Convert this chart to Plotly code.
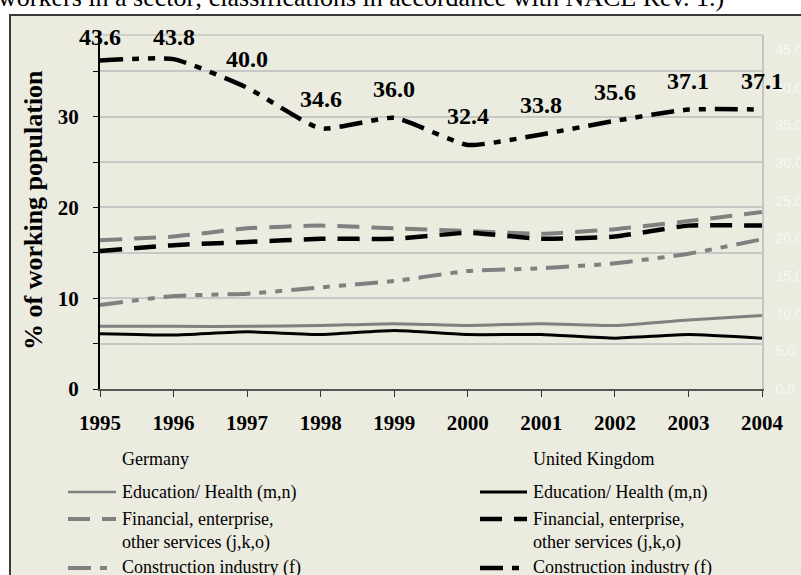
import plotly.graph_objects as go

# ---------------- data ----------------
years = [1995, 1996, 1997, 1998, 1999, 2000, 2001, 2002, 2003, 2004]
de_edu = [6.9, 6.9, 6.9, 7.0, 7.2, 7.0, 7.2, 7.0, 7.6, 8.1]
uk_edu = [6.1, 5.95, 6.3, 6.0, 6.45, 6.0, 6.0, 5.6, 6.0, 5.6]
de_fin = [16.4, 16.8, 17.7, 18.0, 17.7, 17.4, 17.1, 17.6, 18.5, 19.5]
uk_fin = [15.2, 15.85, 16.2, 16.55, 16.55, 17.2, 16.55, 16.8, 18.0, 18.0]
de_con = [9.25, 10.25, 10.5, 11.2, 11.9, 13.0, 13.3, 13.85, 14.9, 16.5]
uk_con = [43.6, 43.8, 40.0, 34.6, 36.0, 32.4, 33.8, 35.6, 37.1, 37.1]  # right axis

left_ticks = [0, 5, 10, 15, 20, 25, 30, 35]
left_ticktext = ["0", "", "10", "", "20", "", "30", ""]
right_ticks = [0, 5, 10, 15, 20, 25, 30, 35, 40, 45]

title_text = "workers in a sector; classifications in accordance with NACE Rev. 1.)"
ytitle = "% of working population"
legend_de_title = "Germany"
legend_uk_title = "United Kingdom"
legend_labels = ["Education/ Health (m,n)",
                 "Financial, enterprise,<br>other services (j,k,o)",
                 "Construction industry (f)"]

# ---------------- style ----------------
W, H = 801, 575
ML, MR, MT, MB = 100, 39, 35, 186
PW, PH = W - ML - MR, H - MT - MB
BEIGE = "#EBEBE0"
GRAY = "#808080"
BLACK = "#000000"
SERIF = "Liberation Serif, Times New Roman, serif"
DASH = "22px,12px"
DASHDOTDOT = "23px,9px,7px,9px,7px,9px"
L_RANGE = [0, 39]
R_RANGE = [0, 47.0]


def px_x(p):
    return (p - ML) / PW


def px_y(p):
    return (H - MB - p) / PH


fig = go.Figure()

series = [
    (de_edu, GRAY, 3, "solid", "y"),
    (de_fin, GRAY, 4, DASH, "y"),
    (de_con, GRAY, 4, DASHDOTDOT, "y"),
    (uk_edu, BLACK, 3, "solid", "y"),
    (uk_fin, BLACK, 4.5, DASH, "y"),
    (uk_con, BLACK, 4.5, DASHDOTDOT, "y2"),
]
for vals, col, w, dash, ax in series:
    fig.add_trace(go.Scatter(
        x=years, y=vals, mode="lines", yaxis=ax, showlegend=False,
        line=dict(color=col, width=w, dash=dash, shape="spline", smoothing=0.5),
        hoverinfo="skip"))

# data labels for UK construction (right axis)
label_offset = 29 * (R_RANGE[1] - R_RANGE[0]) / PH
label_cap = R_RANGE[1] - 2 * (R_RANGE[1] - R_RANGE[0]) / PH
annotations = []
for xv, v in zip(years, uk_con):
    annotations.append(dict(
        x=xv, y=min(v + label_offset, label_cap), xref="x", yref="y2",
        text=f"{v:.1f}", showarrow=False, xanchor="center", yanchor="middle",
        font=dict(family=SERIF, size=24, color=BLACK, weight="bold")))

# top clipped title
annotations.append(dict(
    x=px_x(-4), y=px_y(-2), xref="paper", yref="paper", text=title_text,
    showarrow=False, xanchor="left", yanchor="middle",
    font=dict(family=SERIF, size=26, color=BLACK)))

# y-axis title
annotations.append(dict(
    x=px_x(33), y=px_y(210), xref="paper", yref="paper", text=ytitle,
    showarrow=False, textangle=-90, xanchor="center", yanchor="middle",
    font=dict(family=SERIF, size=26, color=BLACK, weight="bold")))

shapes = []
# chart frame
shapes.append(dict(type="rect", xref="paper", yref="paper", layer="below",
                   x0=px_x(10), x1=px_x(W + 20), y0=px_y(H + 20), y1=px_y(15),
                   fillcolor=BEIGE, line=dict(color="#3A3A3A", width=2)))
# plot top border
shapes.append(dict(type="line", xref="paper", yref="paper", x0=0, x1=1, y0=1, y1=1,
                   line=dict(color="#C4C4C4", width=1.5)))

# manual legend
LEG_FONT = dict(family=SERIF, size=18, color=BLACK)
cols = [(68, 116, 120, legend_de_title, GRAY), (480, 527, 531, legend_uk_title, BLACK)]
rows_y = [492, 519, 568]
text_y = [492, 531, 568]
dashes = ["solid", DASH, DASHDOTDOT]
widths = [3, 4.5, 4.5]
for (lx0, lx1, tx, head, col) in cols:
    annotations.append(dict(x=px_x(tx), y=px_y(459), xref="paper", yref="paper",
                            text=head, showarrow=False, xanchor="left", yanchor="middle",
                            font=LEG_FONT))
    for ry, ty, lab, d, w in zip(rows_y, text_y, legend_labels, dashes, widths):
        shapes.append(dict(type="line", xref="paper", yref="paper",
                           x0=px_x(lx0), x1=px_x(lx1), y0=px_y(ry), y1=px_y(ry),
                           line=dict(color=col, width=w if col == BLACK else w - 0.5, dash=d)))
        annotations.append(dict(x=px_x(tx), y=px_y(ty), xref="paper", yref="paper",
                                text=lab, showarrow=False, xanchor="left", yanchor="middle",
                                align="left", font=LEG_FONT))

fig.update_layout(
    width=W, height=H, autosize=False,
    margin=dict(l=ML, r=MR, t=MT, b=MB, pad=0, autoexpand=False),
    paper_bgcolor="white", plot_bgcolor="rgba(0,0,0,0)",
    showlegend=False,
    xaxis=dict(range=[years[0], years[-1]], tickvals=years, ticks="outside", ticklen=6,
               tickcolor="#333333", showline=True, linecolor="#555555", linewidth=2,
               showgrid=False, zeroline=False, ticklabelstandoff=8, automargin=False,
               tickfont=dict(family=SERIF, size=21, color=BLACK, weight="bold")),
    yaxis=dict(range=L_RANGE, tickvals=left_ticks, ticktext=left_ticktext,
               ticks="outside", ticklen=5, tickcolor=BLACK, showline=True,
               linecolor=BLACK, linewidth=2, showgrid=True, gridcolor="#C8C8C8",
               gridwidth=1.5, zeroline=False, ticklabelstandoff=10, automargin=False,
               tickfont=dict(family=SERIF, size=21, color=BLACK, weight="bold")),
    yaxis2=dict(range=R_RANGE, tickvals=right_ticks, tickformat=".1f", overlaying="y",
                side="right", showgrid=False, zeroline=False, showline=True,
                linecolor="#C4C4C4", linewidth=1.5, ticks="", ticklabelstandoff=9,
                automargin=False,
                tickfont=dict(family="Liberation Sans, Arial, sans-serif", size=14,
                              color="#F7F7F2")),
    shapes=shapes, annotations=annotations,
)

fig.write_html(
    "out.html",
    config={"displayModeBar": False},
    post_script="document.body.style.margin='0';document.body.style.overflow='hidden';",
)
